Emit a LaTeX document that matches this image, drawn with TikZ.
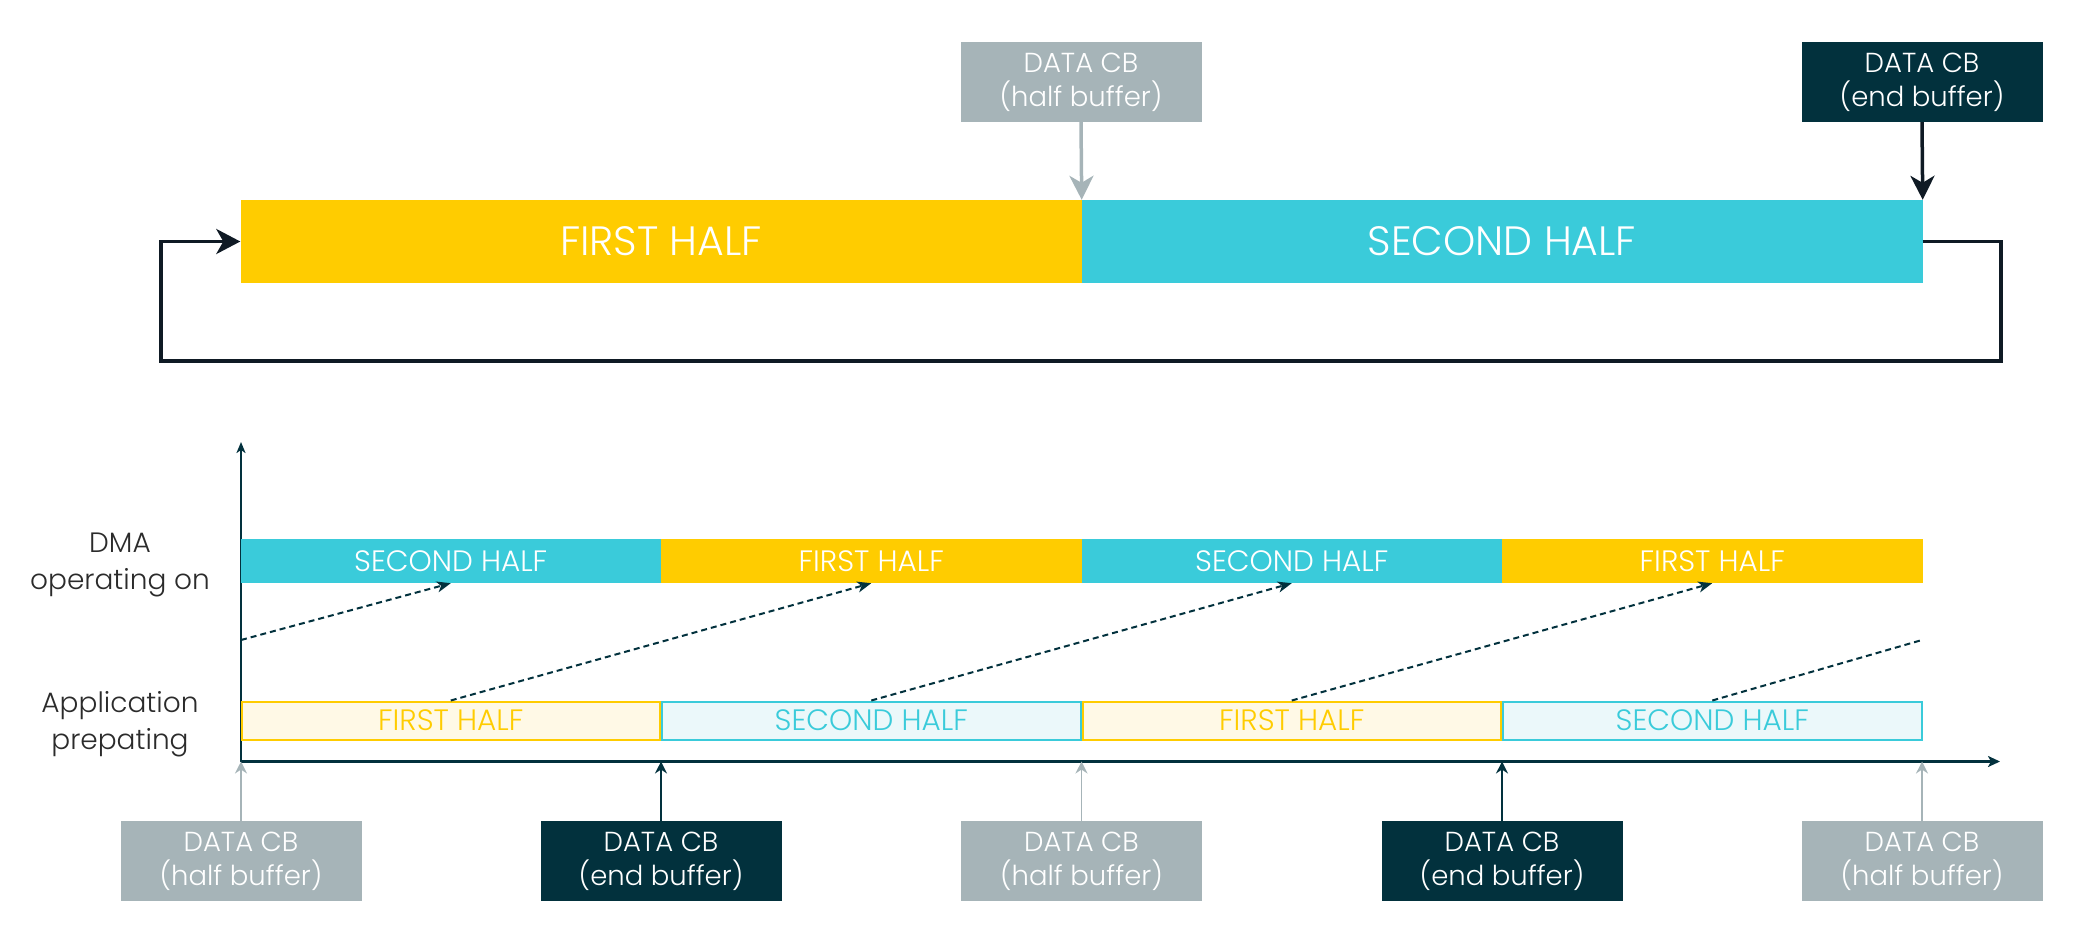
\documentclass[tikz,border=0pt]{standalone}
\usepackage{fontspec}
\setmainfont{Poppins Light}
\usetikzlibrary{arrows.meta}
\definecolor{buffyellow}{HTML}{FFCC00}
\definecolor{buffcyan}{HTML}{3ACBDA}
\definecolor{paleyellow}{HTML}{FFF9E6}
\definecolor{palecyan}{HTML}{EBF8FA}
\definecolor{cbgrey}{HTML}{A6B4B8}
\definecolor{cbdark}{HTML}{02313D}
\definecolor{loopblack}{HTML}{0F1A24}
\definecolor{labelgrey}{HTML}{2B2B2B}
\begin{document}
\begin{tikzpicture}[x=1pt,y=-1pt,
    bigbar/.style={minimum width=841pt,minimum height=83pt,inner sep=0pt,text=white,font=\fontsize{41}{48}\selectfont},
    dmaseg/.style={minimum width=420.5pt,minimum height=44pt,inner sep=0pt,text=white,font=\fontsize{29.5}{34}\selectfont},
    appseg/.style={draw=buff#1,fill=pale#1,text=buff#1,line width=2pt,minimum width=418.5pt,minimum height=38pt,inner sep=0pt,font=\fontsize{29.5}{34}\selectfont},
    cbbox/.style={fill=#1,text=white,minimum width=241pt,minimum height=80pt,inner sep=0pt,align=center,font=\fontsize{27.5}{34}\selectfont},
    rowlabel/.style={text=labelgrey,align=center,font=\fontsize{28}{37}\selectfont},
    bigarrow/.style={draw=#1,line width=3.5pt,-{Stealth[length=24pt,width=24pt,inset=7pt]}},
    smallarrow/.style={draw=#1,line width=1.8pt,-{Stealth[length=12pt,width=12pt,inset=4pt]}},
    handover/.style={draw=cbdark,line width=2pt,dash pattern=on 6pt off 4pt},
    axis/.style={draw=cbdark,line width=2.5pt}]
    \useasboundingbox (0,0) rectangle (2082,942);
    \node[bigbar,fill=buffyellow] (first) at (661,241.5) {FIRST HALF};
    \node[bigbar,fill=buffcyan] (second) at (1502,241.5) {SECOND HALF};
    \node[cbbox=cbgrey] (tophalf) at (1081,82) {DATA CB\\(half buffer)};
    \node[cbbox=cbdark] (topend) at (1922,82) {DATA CB\\(end buffer)};
    \draw[bigarrow=cbgrey] (tophalf.south) -- (first.north east);
    \draw[bigarrow=loopblack] (topend.south) -- (second.north east);
    \coordinate (loopR) at (2001,361);
    \coordinate (loopL) at (161,361);
    \draw[loopblack,line width=3.5pt,-{Stealth[length=24pt,width=25pt,inset=7pt]}] (second.east) -| (loopR) -- (loopL) |- (first.west);
    \coordinate (origin) at (241,761.5);
    \coordinate (ytop) at (241,442);
    \coordinate (xend) at (2000,761.5);
    \draw[axis,-{Stealth[length=11pt,width=9pt,inset=3pt]}] (origin) -- (ytop);
    \draw[axis,-{Stealth[length=12pt,width=11pt,inset=3pt]}] (origin) -- (xend);
    \node[rowlabel] (dmalabel) at (120,565) {DMA\\operating on};
    \node[rowlabel] (applabel) at (120,724) {Application\\prepating};
    \node[dmaseg,fill=buffcyan] (dma1) at (450.75,561) {SECOND HALF};
    \node[dmaseg,fill=buffyellow] (dma2) at (871.25,561) {FIRST HALF};
    \node[dmaseg,fill=buffcyan] (dma3) at (1291.75,561) {SECOND HALF};
    \node[dmaseg,fill=buffyellow] (dma4) at (1712.25,561) {FIRST HALF};
    \node[appseg=yellow] (app1) at (450.75,720.5) {FIRST HALF};
    \node[appseg=cyan] (app2) at (871.25,720.5) {SECOND HALF};
    \node[appseg=yellow] (app3) at (1291.75,720.5) {FIRST HALF};
    \node[appseg=cyan] (app4) at (1712.25,720.5) {SECOND HALF};
    \coordinate (wrapL) at (241,640);
    \coordinate (wrapR) at (1922,640);
    \draw[handover,-{Stealth[length=14pt,width=11pt,inset=4pt]}] (wrapL) -- (dma1.south);
    \draw[handover,-{Stealth[length=14pt,width=11pt,inset=4pt]}] (app1.north) -- (dma2.south);
    \draw[handover,-{Stealth[length=14pt,width=11pt,inset=4pt]}] (app2.north) -- (dma3.south);
    \draw[handover,-{Stealth[length=14pt,width=11pt,inset=4pt]}] (app3.north) -- (dma4.south);
    \draw[handover] (app4.north) -- (wrapR);
    \node[cbbox=cbgrey] (cb1) at (241,861) {DATA CB\\(half buffer)};
    \node[cbbox=cbdark] (cb2) at (661,861) {DATA CB\\(end buffer)};
    \node[cbbox=cbgrey] (cb3) at (1081.5,861) {DATA CB\\(half buffer)};
    \node[cbbox=cbdark] (cb4) at (1502,861) {DATA CB\\(end buffer)};
    \node[cbbox=cbgrey] (cb5) at (1922,861) {DATA CB\\(half buffer)};
    \draw[smallarrow=cbgrey] (cb1.north) -- (cb1.north |- origin);
    \draw[smallarrow=cbdark] (cb2.north) -- (cb2.north |- origin);
    \draw[smallarrow=cbgrey] (cb3.north) -- (cb3.north |- origin);
    \draw[smallarrow=cbdark] (cb4.north) -- (cb4.north |- origin);
    \draw[smallarrow=cbgrey] (cb5.north) -- (cb5.north |- origin);
\end{tikzpicture}
\end{document}
